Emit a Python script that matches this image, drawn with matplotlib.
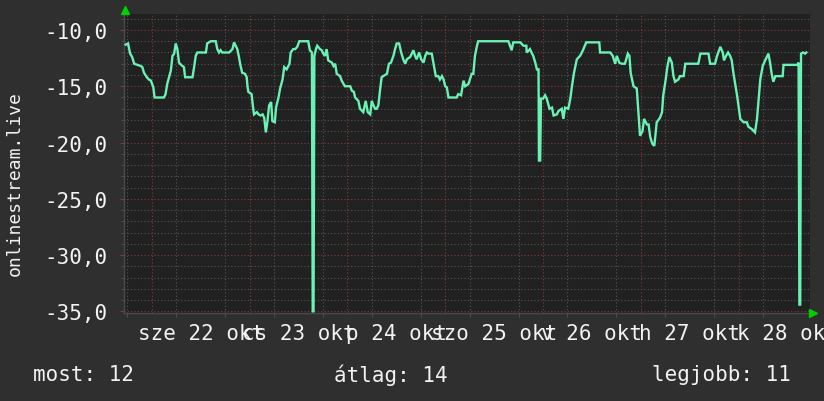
import matplotlib
matplotlib.use("Agg")
import matplotlib.pyplot as plt
import numpy as np

# ---------------- data (hours since 22 okt 00:00, value) ----------------
hours_a = [-6.4, -5.8, -5.3, -4.8, -4.3, -3.5, -2.7, -2.3, -1.9, -1.2,
           -0.7, -0.2, 0.4, 0.7, 3.0, 3.4, 3.8, 4.7, 5.1, 5.5,
           5.9, 6.3, 6.7, 7.2, 7.9, 8.2, 10.0, 10.4, 10.8, 11.2,
           13.3, 13.6, 14.5, 15.7, 16.1, 16.5, 16.9, 17.3, 19.0, 19.8,
           20.2, 21.0, 21.4, 21.8, 22.2]
values_a = [-11.3, -11.2, -12.1, -12.4, -13.0, -13.1, -13.2, -13.3, -13.8, -14.2,
            -14.4, -14.5, -15.1, -16.0, -16.0, -15.7, -14.8, -13.6, -12.3, -12.1,
            -11.2, -11.7, -12.9, -13.1, -13.3, -14.2, -14.2, -13.3, -12.3, -12.0,
            -12.0, -11.2, -11.0, -11.0, -11.7, -12.0, -11.8, -12.0, -12.0, -11.7,
            -11.1, -11.7, -12.4, -13.2, -13.8]

hours_b = [22.9, 23.3, 23.5, 23.7, 24.5, 24.8, 25.1, 25.8, 26.2, 26.7,
           27.2, 27.6, 28.0, 28.4, 28.8, 29.3, 29.6, 30.2, 30.5, 31.1,
           31.5, 32.1, 32.5, 33.1, 33.8, 34.1, 34.7, 35.2, 35.7, 36.2,
           38.4, 38.8, 39.3, 39.5, 39.7, 39.9, 40.3, 40.6, 41.3, 41.7,
           42.1, 42.5, 42.9, 43.3, 44.2, 44.6, 45.0, 45.4, 46.2, 46.6,
           47.4, 48.7, 49.1, 49.6, 49.9, 50.7]
values_b = [-13.9, -14.2, -15.0, -15.5, -15.7, -16.7, -17.5, -17.3, -17.5, -17.6,
            -17.5, -17.8, -19.1, -18.1, -16.7, -16.4, -18.1, -18.2, -16.9, -16.0,
            -15.2, -14.4, -13.3, -13.5, -13.0, -12.0, -11.7, -11.7, -11.5, -11.0,
            -11.0, -11.8, -12.0, -35.0, -35.0, -12.3, -11.7, -11.4, -11.7, -11.8,
            -12.1, -12.3, -11.7, -12.7, -12.9, -13.2, -13.0, -13.9, -14.1, -14.5,
            -15.0, -15.0, -15.4, -15.5, -16.0, -16.3]

hours_c = [51.1, 51.9, 52.5, 53.0, 53.6, 54.0, 54.4, 54.8, 55.2, 55.6,
           56.0, 56.4, 56.8, 57.7, 58.2, 58.7, 59.3, 59.7, 60.1, 60.7,
           61.2, 61.7, 62.2, 62.6, 63.4, 64.2, 64.6, 65.0, 65.6, 66.1,
           66.7, 67.1, 67.5, 67.9, 68.7, 69.3, 69.7, 70.3, 70.7, 71.2,
           71.6, 72.0, 72.4, 72.8, 74.8, 75.2, 75.9, 76.5, 76.9, 77.7,
           78.5, 78.9, 79.3, 79.8, 80.1]
values_c = [-17.0, -17.3, -16.3, -17.3, -17.5, -16.3, -16.7, -17.0, -17.0, -16.7,
            -15.4, -14.2, -14.1, -13.9, -13.0, -12.9, -12.3, -11.7, -11.2, -11.2,
            -12.0, -12.6, -13.0, -12.6, -12.4, -11.8, -12.3, -12.6, -12.0, -12.6,
            -12.9, -12.3, -12.0, -12.1, -12.1, -13.3, -14.1, -14.1, -14.4, -14.1,
            -14.4, -15.0, -15.1, -16.0, -16.0, -15.7, -15.8, -14.5, -15.0, -14.8,
            -13.9, -13.9, -12.3, -11.4, -11.0]

hours_d = [87.5, 88.3, 88.7, 90.4, 91.2, 91.9, 92.0, 92.8, 93.3, 93.6,
           94.1, 94.5, 94.9, 95.0, 95.3, 95.5, 96.0, 96.5, 96.9, 97.6,
           98.2, 98.6, 99.4, 99.8, 100.6, 101.0, 101.4, 102.2, 102.7, 103.1,
           103.6, 104.3, 105.1, 105.8, 106.6, 109.8, 110.0, 112.5, 113.1, 113.7,
           114.1, 114.7, 115.3, 116.1, 116.8, 117.2, 117.5, 118.2, 119.0, 119.4,
           119.8, 120.4, 120.8, 121.5, 121.9, 122.3, 122.8, 123.3, 123.6, 123.9,
           124.7, 125.2, 125.5, 126.1, 126.5, 127.0, 127.6, 128.0, 128.4, 129.2,
           129.6, 130.5, 130.9, 134.1, 134.6, 136.6, 137.0, 138.2, 138.7, 139.5,
           140.1, 140.4, 140.9, 141.4, 141.9, 142.3, 142.7, 143.6, 144.4, 145.2,
           146.0, 146.4, 147.2, 148.0, 148.5, 148.9, 149.3, 149.9, 150.5, 151.3,
           151.7, 152.1, 152.5, 153.0, 154.8, 155.0, 158.4, 158.7, 158.9, 159.1,
           159.3, 159.8, 160.3, 160.6]
values_d = [-11.0, -11.8, -11.1, -11.1, -11.4, -11.4, -12.0, -11.7, -12.1, -12.3,
            -12.9, -13.5, -13.5, -21.6, -21.6, -16.1, -16.1, -15.8, -16.1, -17.0,
            -16.9, -17.6, -17.5, -17.2, -17.0, -17.9, -16.9, -17.0, -16.1, -15.0,
            -13.8, -12.6, -12.3, -11.8, -11.1, -11.1, -12.0, -12.0, -12.3, -13.0,
            -12.3, -12.9, -13.0, -13.0, -12.1, -12.3, -13.8, -15.0, -15.2, -17.3,
            -19.4, -19.0, -17.9, -18.4, -18.4, -19.5, -20.1, -20.3, -19.2, -18.2,
            -17.8, -17.3, -15.8, -14.4, -13.3, -12.4, -12.9, -14.1, -14.6, -14.4,
            -14.1, -14.1, -13.0, -13.0, -12.1, -12.1, -13.0, -13.0, -12.3, -11.5,
            -12.0, -12.7, -12.3, -12.0, -12.3, -12.7, -13.8, -15.8, -17.9, -18.2,
            -18.2, -18.6, -18.8, -19.1, -17.9, -16.1, -14.4, -13.2, -12.7, -12.1,
            -12.9, -13.9, -14.6, -14.1, -14.1, -13.1, -13.1, -12.9, -34.4, -34.4,
            -12.1, -12.0, -12.1, -12.0]

hours = hours_a + hours_b + hours_c + hours_d
values = values_a + values_b + values_c + values_d

day_labels = ["sze 22 okt", "cs 23 okt", "p 24 okt", "szo 25 okt",
              "v 26 okt", "h 27 okt", "k 28 okt"]
day_starts = [0, 24, 48, 72, 96, 120, 144]
y_major = [-35, -30, -25, -20, -15, -10]
y_minor = [-34, -33, -32, -31, -29, -28, -27, -26, -24, -23, -22, -21,
           -19, -18, -17, -16, -14, -13, -12, -11, -9]
x_range = (-6.8, 161.5)
y_range = (-35.15, -8.58)
y_title = "onlinestream.live"
summary = [("most", 12), ("átlag", 14), ("legjobb", 11)]

# ---------------- style ----------------
BG = "#2f2f2f"
PLOT_BG = "#212121"
LINE = "#6af2b4"
MINOR = "#555555"
MAJOR = "#853a3a"
TXT = "#f2f2f2"
ARROW = "#00d000"
FONT = "DejaVu Sans Mono"
FS = 15

W, H = 824, 402
fig = plt.figure(figsize=(W / 100, H / 100), dpi=100, facecolor=BG)
ax = fig.add_axes([124 / W, 1 - 314 / H, 686 / W, 299 / H], facecolor=PLOT_BG)

ax.set_xlim(*x_range)
ax.set_ylim(*y_range)

# grid
dot = (0, (1, 2))
ax.set_yticks(y_major)
ax.set_yticklabels([f"{v:.1f}".replace(".", ",") for v in y_major],
                   fontfamily=FONT, fontsize=FS, color=TXT)
ax.set_yticks(y_minor, minor=True)
ax.yaxis.grid(True, which="minor", color=MINOR, ls=dot, lw=0.8)
ax.yaxis.grid(True, which="major", color=MAJOR, ls=dot, lw=0.8)

noon = [d + 12 for d in day_starts]
ax.set_xticks(noon)
ax.set_xticklabels(day_labels, fontfamily=FONT, fontsize=FS, color=TXT)
six = [d + k for d in day_starts + [-24] for k in (6, 12, 18)]
six = [s for s in six if x_range[0] < s < x_range[1]]
ax.set_xticks(six, minor=True)
ax.xaxis.grid(True, which="minor", color=MINOR, ls=dot, lw=0.8)
ax.xaxis.grid(False, which="major")
for d in day_starts:
    ax.axvline(d, color=MAJOR, ls=dot, lw=0.8, zorder=1)

ax.set_axisbelow(True)
ax.tick_params(axis="x", which="major", length=0, pad=7)
ax.tick_params(axis="x", which="minor", length=3, color=MINOR)
ax.tick_params(axis="y", which="major", length=3, color=MAJOR, pad=9)
ax.tick_params(axis="y", which="minor", length=2, color=MINOR)

for s in ("top", "right"):
    ax.spines[s].set_visible(False)
for s in ("left", "bottom"):
    ax.spines[s].set_color("#4a4a4a")
    ax.spines[s].set_linewidth(1.0)

ax.plot(hours, values, color=LINE, lw=1.7, zorder=3, solid_joinstyle="miter")

# axis arrows
fig.lines.append(matplotlib.lines.Line2D([125 / W], [1 - 11 / H], marker="^",
                 ms=6, color=ARROW, transform=fig.transFigure))
fig.lines.append(matplotlib.lines.Line2D([813 / W], [1 - 314 / H], marker=">",
                 ms=6, color=ARROW, transform=fig.transFigure))

fig.text(15 / W, 1 - 184 / H, y_title, rotation=90, ha="center", va="center",
         fontfamily=FONT, fontsize=13, color=TXT)

xs = [33, 334, 652]
for (name, val), x in zip(summary, xs):
    fig.text(x / W, 1 - 375 / H, f"{name}: {val}", ha="left", va="center",
             fontfamily=FONT, fontsize=FS, color=TXT)

fig.savefig("out.png", dpi=100, facecolor=BG)
